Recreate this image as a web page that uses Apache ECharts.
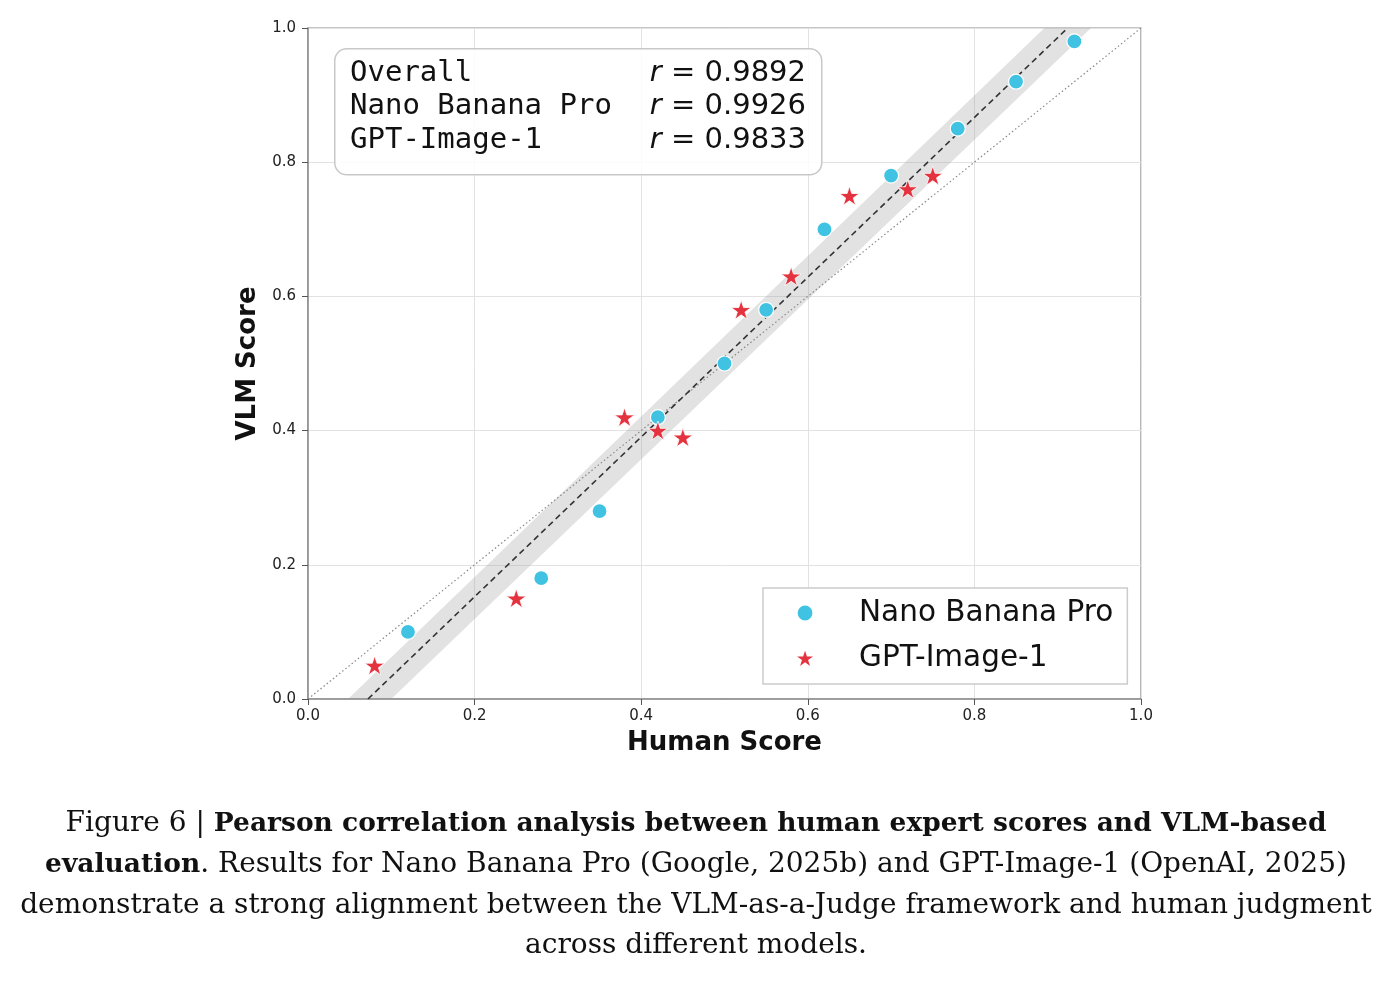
<!DOCTYPE html>
<html>
<head>
<meta charset="utf-8">
<title>Pearson correlation: human vs VLM score</title>
<script src="https://cdn.jsdelivr.net/npm/echarts@6/dist/echarts.min.js"></script>
<style>
    html, body { margin: 0; padding: 0; background: #ffffff; }
    #main { width: 1392px; height: 982px; }
</style>
</head>
<body>
<div id="main"></div>
<script>
    // points: [human score, VLM score]
    var nanoBanana = [[0.12, 0.10], [0.28, 0.18], [0.35, 0.28], [0.42, 0.42], [0.50, 0.50], [0.55, 0.58],
        [0.62, 0.70], [0.70, 0.78], [0.78, 0.85], [0.85, 0.92], [0.92, 0.98]];
    var gptImage = [[0.08, 0.05], [0.25, 0.15], [0.38, 0.42], [0.42, 0.40], [0.45, 0.39], [0.52, 0.58],
        [0.58, 0.63], [0.65, 0.75], [0.72, 0.76], [0.75, 0.78]];
    // fitted line and its band
    var fitLine = [[0.072, 0], [0.912, 1]];
    var fitBand = [[0.048, 0], [0.100, 0], [0.940, 1], [0.884, 1]];
    var identityLine = [[0, 0], [1, 1]];
    // correlation box
    var statNames = ['Overall', 'Nano Banana Pro', 'GPT-Image-1'];
    var statR = ['0.9892', '0.9926', '0.9833'];
    var seriesNames = ['Nano Banana Pro', 'GPT-Image-1'];
    var caption = [
        'Figure 6 | {b|Pearson correlation analysis between human expert scores and VLM-based}',
        '{b|evaluation}. Results for Nano Banana Pro (Google, 2025b) and GPT-Image-1 (OpenAI, 2025)',
        'demonstrate a strong alignment between the VLM-as-a-Judge framework and human judgment',
        'across different models.'
    ];

    var starPath = 'path://M50,0L61.23,34.55L97.55,34.55L68.17,55.9L79.39,90.45L50,69.1L20.61,90.45L31.83,55.9L2.45,34.55L38.77,34.55Z';
    // legend circle: invisible corner moves keep it a bit smaller than the star
    var legendCircle = 'path://M0,0M100,100M10,50A40,40 0 1 1 90,50A40,40 0 1 1 10,50Z';
    var blue = '#40c3e3';
    var red = '#e5323f';

    // stat box + caption, plain graphic elements
    var graphics = [{
        type: 'rect',
        left: 334, top: 48, z: 10,
        shape: { width: 487, height: 126, r: 12 },
        style: { fill: 'rgba(255,255,255,0.85)', stroke: '#c8c8c8', lineWidth: 1.5 }
    }];
    statNames.forEach(function (n, i) {
        graphics.push({
            type: 'text', x: 350, y: 73 + i * 33.5, z: 11,
            style: { text: n, font: '29px "DejaVu Sans Mono"', fill: '#111', verticalAlign: 'middle', align: 'left' }
        });
        graphics.push({
            type: 'text', x: 806, y: 73 + i * 33.5, z: 11,
            style: {
                text: '{i|r} = ' + statR[i], fontFamily: 'DejaVu Sans', fontSize: 29, fill: '#111',
                verticalAlign: 'middle', align: 'right',
                rich: { i: { fontStyle: 'italic', fontFamily: 'DejaVu Sans', fontSize: 29, fill: '#111' } }
            }
        });
    });
    caption.forEach(function (line, i) {
        graphics.push({
            type: 'text', x: 696, y: 824 + i * 40.7,
            style: {
                text: line, fontFamily: 'DejaVu Serif', fontSize: 28, fill: '#111',
                align: 'center', verticalAlign: 'middle',
                rich: { b: { fontFamily: 'DejaVu Serif', fontWeight: 'bold', fontSize: 26.5, fill: '#111' } }
            }
        });
    });

    var op = {
        backgroundColor: '#ffffff',
        animation: false,
        grid: {
            left: 308, right: 251, top: 28, bottom: 283,
            show: true, borderColor: '#8c8c8c', borderWidth: 1.2
        },
        legend: {
            orient: 'vertical',
            left: 763, top: 588,
            padding: [8, 14, 9, 30],
            itemWidth: 30, itemHeight: 21, itemGap: 11,
            backgroundColor: '#ffffff',
            borderColor: '#cccccc', borderWidth: 1.5, borderRadius: 0,
            textStyle: { fontFamily: 'DejaVu Sans', fontSize: 29.5, color: '#111', lineHeight: 34, padding: [0, 0, 0, 34] },
            data: [
                { name: seriesNames[0], icon: legendCircle },
                { name: seriesNames[1], icon: starPath }
            ]
        },
        xAxis: {
            type: 'value', min: 0, max: 1, interval: 0.2,
            name: 'Human Score', nameLocation: 'middle', nameGap: 31,
            nameTextStyle: { fontFamily: 'DejaVu Sans', fontWeight: 'bold', fontSize: 26, color: '#111' },
            axisLine: { show: true, lineStyle: { color: '#8c8c8c', width: 1.5 } },
            axisTick: { show: true, length: 6, lineStyle: { color: '#555' } },
            axisLabel: { fontFamily: 'DejaVu Sans', fontSize: 15, color: '#222', margin: 10,
                formatter: function (v) { return v.toFixed(1); } },
            splitLine: { show: true, lineStyle: { color: '#e2e2e2', width: 1 } }
        },
        yAxis: {
            type: 'value', min: 0, max: 1, interval: 0.2,
            name: 'VLM Score', nameLocation: 'middle', nameGap: 47, nameRotate: 90,
            nameTextStyle: { fontFamily: 'DejaVu Sans', fontWeight: 'bold', fontSize: 26, color: '#111' },
            axisLine: { show: true, lineStyle: { color: '#8c8c8c', width: 1.5 } },
            axisTick: { show: true, length: 6, lineStyle: { color: '#555' } },
            axisLabel: { fontFamily: 'DejaVu Sans', fontSize: 15, color: '#222', margin: 12,
                formatter: function (v) { return v.toFixed(1); } },
            splitLine: { show: true, lineStyle: { color: '#e2e2e2', width: 1 } }
        },
        graphic: graphics,
        series: [
            {
                name: 'band', type: 'custom', z: 1, silent: true,
                data: [0],
                renderItem: function (params, api) {
                    var pts = fitBand.map(function (p) { return api.coord(p); });
                    return {
                        type: 'polygon',
                        shape: { points: pts },
                        style: { fill: 'rgba(150,150,150,0.28)', stroke: 'none' }
                    };
                }
            },
            {
                name: 'identity', type: 'line', z: 2, silent: true,
                data: identityLine, symbol: 'none',
                lineStyle: { color: '#888', width: 1.2, type: [1.5, 2.5] }
            },
            {
                name: 'fit', type: 'line', z: 3, silent: true,
                data: fitLine, symbol: 'none',
                lineStyle: { color: '#333', width: 1.6, type: [6, 4] }
            },
            {
                name: seriesNames[0], type: 'scatter', z: 5,
                data: nanoBanana, symbol: 'circle', symbolSize: 15,
                itemStyle: { color: blue, borderColor: '#fff', borderWidth: 1.2, opacity: 1 }
            },
            {
                name: seriesNames[1], type: 'scatter', z: 5,
                data: gptImage, symbol: starPath, symbolSize: 20, symbolKeepAspect: true,
                itemStyle: { color: red, borderColor: '#fff', borderWidth: 0.8, opacity: 1 }
            }
        ]
    };

    var myChart = echarts.init(document.getElementById('main'));
    myChart.setOption(op);
</script>
</body>
</html>
